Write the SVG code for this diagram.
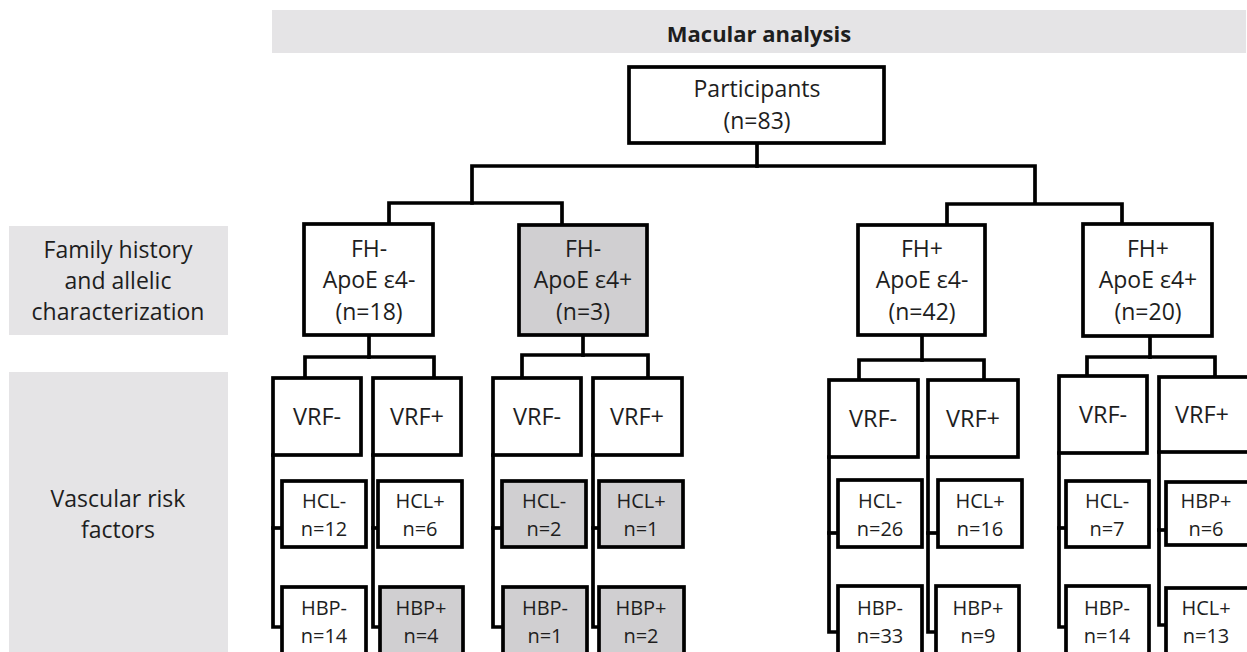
<svg xmlns="http://www.w3.org/2000/svg" width="1247" height="652" viewBox="0 0 1247 652">
<style>
  .band{fill:#e5e4e6;stroke:none}
  .box{fill:#ffffff;stroke:#000;stroke-width:3.7}
  .gbox{fill:#d0cfd1;stroke:#000;stroke-width:3.7}
  .con{fill:none;stroke:#000;stroke-width:3.7;stroke-linejoin:miter;stroke-linecap:square}
  text{font-family:"Open Sans","Liberation Sans",sans-serif;fill:#1e1e1e;text-anchor:middle}
  .title{font-size:22px;font-weight:bold}
  .lbl{font-size:23px}
  .vrf{font-size:23.5px}
  .sm{font-size:20px}
</style>
<rect width="1247" height="652" fill="#fff"/>
<g id="header">
  <rect class="band" x="272" y="10" width="974" height="43"/>
  <text class="title" x="759" y="42">Macular analysis</text>
</g>
<g id="label-family">
  <rect class="band" x="9" y="226" width="219" height="109"/>
  <text class="lbl" x="118" y="258">Family history</text>
  <text class="lbl" x="118" y="289">and allelic</text>
  <text class="lbl" x="118" y="320">characterization</text>
</g>
<g id="label-vascular">
  <rect class="band" x="9" y="372" width="219" height="290"/>
  <text class="lbl" x="118" y="507">Vascular risk</text>
  <text class="lbl" x="118" y="538">factors</text>
</g>
<g id="connectors">
  <polyline class="con" points="757,143 757,166"/>
  <polyline class="con" points="472,203 472,166 1035,166 1035,203"/>
  <polyline class="con" points="389,224 389,203 562,203 562,225"/>
  <polyline class="con" points="947,225 947,204 1122,204 1122,224"/>
  <polyline class="con" points="369,335 369,357"/>
  <polyline class="con" points="305,378 305,357 434,357 434,378"/>
  <polyline class="con" points="583,335 583,355"/>
  <polyline class="con" points="522,378 522,355 648,355 648,378"/>
  <polyline class="con" points="922,335 922,360"/>
  <polyline class="con" points="859,380 859,360 984,360 984,380"/>
  <polyline class="con" points="1150,336 1150,357"/>
  <polyline class="con" points="1087,376 1087,357 1215,357 1215,377"/>
  <polyline class="con" points="273,455 273,627 282,627"/>
  <polyline class="con" points="273,528 282,528"/>
  <polyline class="con" points="373,455 373,627 380,627"/>
  <polyline class="con" points="373,528 378,528"/>
  <polyline class="con" points="493,455 493,627 503,627"/>
  <polyline class="con" points="493,528 502,528"/>
  <polyline class="con" points="593,455 593,627 599,627"/>
  <polyline class="con" points="593,528 599,528"/>
  <polyline class="con" points="829,457 829,632 838,632"/>
  <polyline class="con" points="829,533 838,533"/>
  <polyline class="con" points="928,457 928,632 936,632"/>
  <polyline class="con" points="928,533 938,533"/>
  <polyline class="con" points="1059,453 1059,627 1066,627"/>
  <polyline class="con" points="1059,528 1066,528"/>
  <polyline class="con" points="1159,452 1159,625 1166,625"/>
  <polyline class="con" points="1159,530 1166,530"/>
</g>
<g id="participants">
  <rect class="box" x="629" y="67" width="255" height="76"/>
  <text class="lbl" x="757" y="97">Participants</text>
  <text class="lbl" x="757" y="129">(n=83)</text>
</g>
<g id="fh1">
  <rect class="box" x="304" y="224" width="129" height="111"/>
  <text class="lbl" x="369" y="257">FH-</text>
  <text class="lbl" x="369" y="288">ApoE ε4-</text>
  <text class="lbl" x="369" y="320">(n=18)</text>
</g>
<g id="fh2">
  <rect class="gbox" x="519" y="225" width="128" height="110"/>
  <text class="lbl" x="583" y="257">FH-</text>
  <text class="lbl" x="583" y="288">ApoE ε4+</text>
  <text class="lbl" x="583" y="320">(n=3)</text>
</g>
<g id="fh3">
  <rect class="box" x="858" y="225" width="127" height="110"/>
  <text class="lbl" x="922" y="257">FH+</text>
  <text class="lbl" x="922" y="288">ApoE ε4-</text>
  <text class="lbl" x="922" y="320">(n=42)</text>
</g>
<g id="fh4">
  <rect class="box" x="1083" y="224" width="129" height="112"/>
  <text class="lbl" x="1148" y="257">FH+</text>
  <text class="lbl" x="1148" y="288">ApoE ε4+</text>
  <text class="lbl" x="1148" y="320">(n=20)</text>
</g>
<g id="g1-vrf-neg"><rect class="box" x="273" y="378" width="88" height="77"/><text class="vrf" x="317" y="425">VRF-</text></g>
<g id="g1-vrf-pos"><rect class="box" x="373" y="378" width="88" height="77"/><text class="vrf" x="417" y="425">VRF+</text></g>
<g id="g1-hcl-neg"><rect class="box" x="282" y="481" width="84" height="66"/><text class="sm" x="324" y="508">HCL-</text><text class="sm" x="324" y="536">n=12</text></g>
<g id="g1-hcl-pos"><rect class="box" x="378" y="481" width="84" height="66"/><text class="sm" x="420" y="508">HCL+</text><text class="sm" x="420" y="536">n=6</text></g>
<g id="g1-hbp-neg"><rect class="box" x="282" y="587" width="84" height="75"/><text class="sm" x="324" y="615">HBP-</text><text class="sm" x="324" y="643">n=14</text></g>
<g id="g1-hbp-pos"><rect class="gbox" x="380" y="587" width="83" height="75"/><text class="sm" x="421" y="615">HBP+</text><text class="sm" x="421" y="643">n=4</text></g>
<g id="g2-vrf-neg"><rect class="box" x="493" y="378" width="88" height="77"/><text class="vrf" x="537" y="425">VRF-</text></g>
<g id="g2-vrf-pos"><rect class="box" x="593" y="378" width="89" height="77"/><text class="vrf" x="637" y="425">VRF+</text></g>
<g id="g2-hcl-neg"><rect class="gbox" x="502" y="481" width="84" height="66"/><text class="sm" x="544" y="508">HCL-</text><text class="sm" x="544" y="536">n=2</text></g>
<g id="g2-hcl-pos"><rect class="gbox" x="599" y="481" width="84" height="66"/><text class="sm" x="641" y="508">HCL+</text><text class="sm" x="641" y="536">n=1</text></g>
<g id="g2-hbp-neg"><rect class="gbox" x="503" y="587" width="84" height="75"/><text class="sm" x="545" y="615">HBP-</text><text class="sm" x="545" y="643">n=1</text></g>
<g id="g2-hbp-pos"><rect class="gbox" x="599" y="587" width="85" height="75"/><text class="sm" x="641" y="615">HBP+</text><text class="sm" x="641" y="643">n=2</text></g>
<g id="g3-vrf-neg"><rect class="box" x="829" y="380" width="89" height="77"/><text class="vrf" x="873" y="427">VRF-</text></g>
<g id="g3-vrf-pos"><rect class="box" x="928" y="380" width="90" height="77"/><text class="vrf" x="973" y="427">VRF+</text></g>
<g id="g3-hcl-neg"><rect class="box" x="838" y="480" width="84" height="67"/><text class="sm" x="880" y="508">HCL-</text><text class="sm" x="880" y="536">n=26</text></g>
<g id="g3-hcl-pos"><rect class="box" x="938" y="480" width="84" height="67"/><text class="sm" x="980" y="508">HCL+</text><text class="sm" x="980" y="536">n=16</text></g>
<g id="g3-hbp-neg"><rect class="box" x="838" y="586" width="84" height="76"/><text class="sm" x="880" y="615">HBP-</text><text class="sm" x="880" y="643">n=33</text></g>
<g id="g3-hbp-pos"><rect class="box" x="936" y="586" width="83" height="76"/><text class="sm" x="978" y="615">HBP+</text><text class="sm" x="978" y="643">n=9</text></g>
<g id="g4-vrf-neg"><rect class="box" x="1059" y="376" width="88" height="77"/><text class="vrf" x="1103" y="423">VRF-</text></g>
<g id="g4-vrf-pos"><rect class="box" x="1159" y="377" width="92" height="75"/><text class="vrf" x="1202" y="423">VRF+</text></g>
<g id="g4-hcl-neg"><rect class="box" x="1066" y="481" width="83" height="66"/><text class="sm" x="1107" y="508">HCL-</text><text class="sm" x="1107" y="536">n=7</text></g>
<g id="g4-hbp-pos"><rect class="box" x="1166" y="482" width="85" height="63"/><text class="sm" x="1206" y="508">HBP+</text><text class="sm" x="1206" y="536">n=6</text></g>
<g id="g4-hbp-neg"><rect class="box" x="1066" y="586" width="83" height="76"/><text class="sm" x="1107" y="615">HBP-</text><text class="sm" x="1107" y="643">n=14</text></g>
<g id="g4-hcl-pos"><rect class="box" x="1166" y="588" width="85" height="74"/><text class="sm" x="1206" y="615">HCL+</text><text class="sm" x="1206" y="643">n=13</text></g>
</svg>
